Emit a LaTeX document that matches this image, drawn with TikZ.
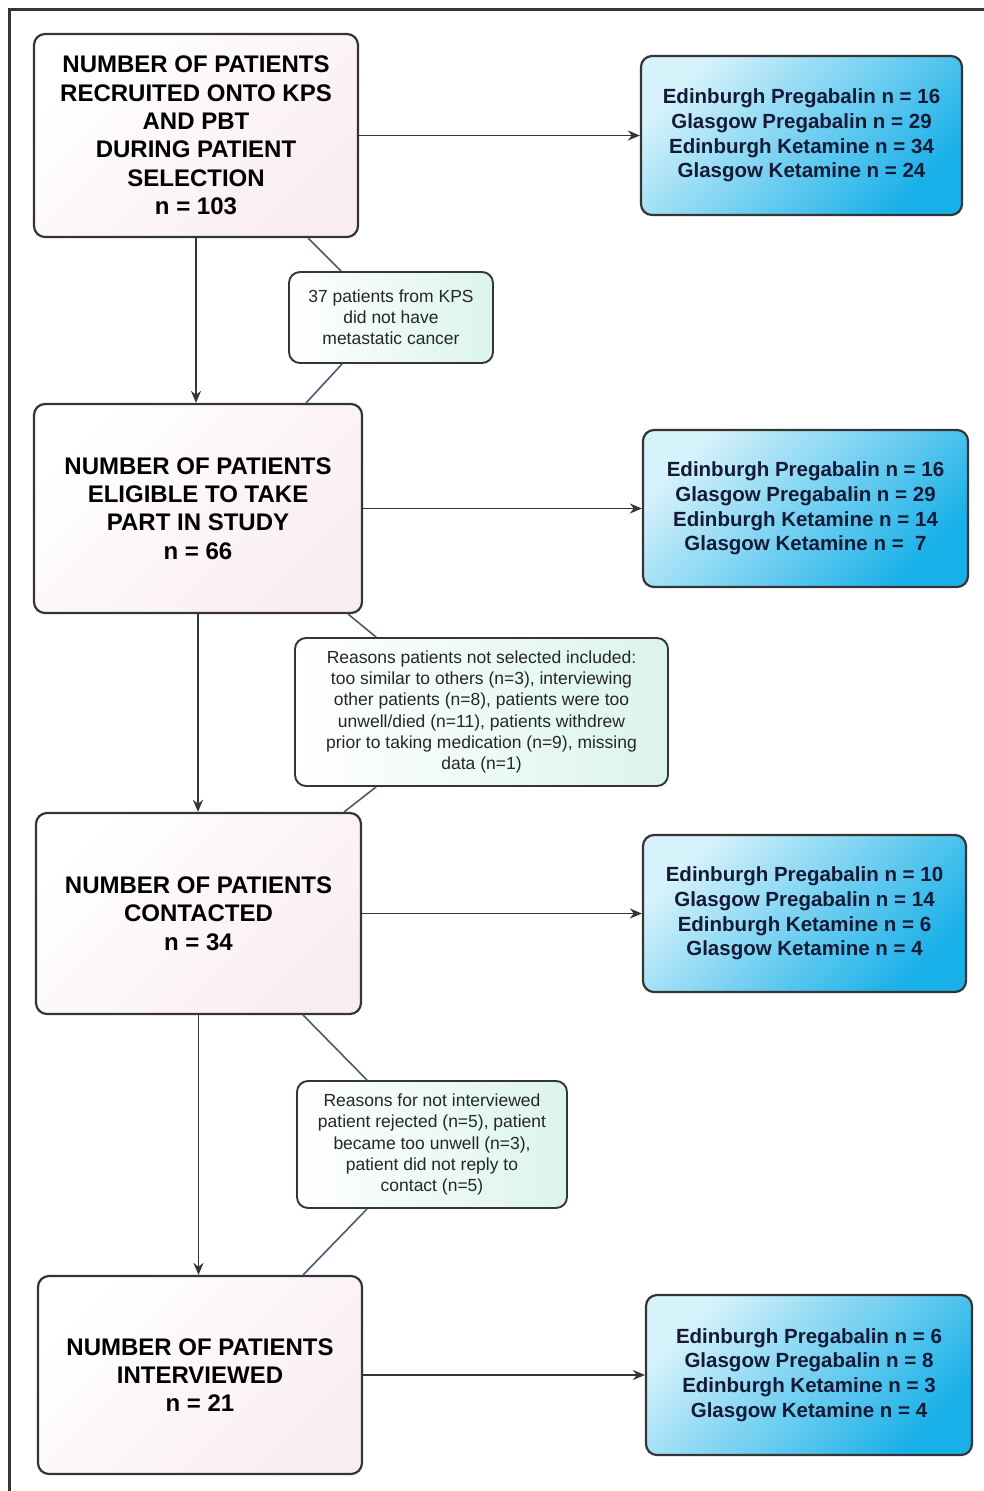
\documentclass[tikz,border=0pt]{standalone}
\usepackage{fontspec}
\setmainfont{Liberation Sans}
\usetikzlibrary{arrows.meta}

\definecolor{edge}{HTML}{353535}
\definecolor{linkblue}{HTML}{4A5878}
\definecolor{pinkish}{HTML}{FAEDF0}
\definecolor{cyanlight}{HTML}{D6F2FB}
\definecolor{cyandeep}{HTML}{18B0E8}
\definecolor{mint}{HTML}{DBF4EC}
\definecolor{navytext}{HTML}{151A36}

\begin{document}
\begin{tikzpicture}[x=1pt,y=-1pt,
  stage/.style={draw=edge,line width=2.2pt,rounded corners=11pt,
    top color=white,bottom color=pinkish,shading angle=45,
    font=\bfseries\fontsize{24}{28.3}\selectfont,align=center,inner sep=0pt},
  sites/.style={draw=edge,line width=2.2pt,rounded corners=11pt,
    top color=cyanlight,bottom color=cyandeep,shading angle=45,
    text=navytext,font=\bfseries\fontsize{20.5}{24.6}\selectfont,align=center,inner sep=0pt},
  reason/.style={draw=edge,line width=1.9pt,rounded corners=11pt,
    left color=white,right color=mint,
    text=black!85,font=\fontsize{17.5}{21.2}\selectfont,align=center,inner sep=0pt},
  arr/.style={draw=edge,line width=1.8pt,-{Stealth[length=12pt,width=10pt]}},
  link/.style={draw=linkblue,line width=1.6pt}]
\useasboundingbox (0,0) rectangle (984,1491);
% the outer frame, cut off at the right and the bottom
\draw[line width=2.2pt,edge] (9.5,1491) -- (9.5,9.5) -- (984,9.5);
% the four stages of the flow
\node[stage,minimum width=324pt,minimum height=203pt] (recruited) at (196,135.5)
  {NUMBER OF PATIENTS\\RECRUITED ONTO KPS\\AND PBT\\DURING PATIENT\\SELECTION\\n = 103};
\node[stage,minimum width=328pt,minimum height=209pt] (eligible) at (198,508.5)
  {NUMBER OF PATIENTS\\ELIGIBLE TO TAKE\\PART IN STUDY\\n = 66};
\node[stage,minimum width=325pt,minimum height=201pt] (contacted) at (198.5,913.5)
  {NUMBER OF PATIENTS\\CONTACTED\\n = 34};
\node[stage,minimum width=324pt,minimum height=198pt] (interviewed) at (200,1375)
  {NUMBER OF PATIENTS\\INTERVIEWED\\n = 21};
% the split by site and drug at each stage
\node[sites,minimum width=321pt,minimum height=159pt] (split1) at (801.5,135.5)
  {Edinburgh Pregabalin n = 16\\Glasgow Pregabalin n = 29\\Edinburgh Ketamine n = 34\\Glasgow Ketamine n = 24};
\node[sites,minimum width=325pt,minimum height=157pt] (split2) at (805.5,508.5)
  {Edinburgh Pregabalin n = 16\\Glasgow Pregabalin n = 29\\Edinburgh Ketamine n = 14\\Glasgow Ketamine n = \ 7};
\node[sites,minimum width=323pt,minimum height=157pt] (split3) at (804.5,913.5)
  {Edinburgh Pregabalin n = 10\\Glasgow Pregabalin n = 14\\Edinburgh Ketamine n = 6\\Glasgow Ketamine n = 4};
\node[sites,minimum width=326pt,minimum height=160pt] (split4) at (809,1375)
  {Edinburgh Pregabalin n = 6\\Glasgow Pregabalin n = 8\\Edinburgh Ketamine n = 3\\Glasgow Ketamine n = 4};
% the reasons for the drop between stages
\node[reason,minimum width=204pt,minimum height=91pt] (drop1) at (391,317.5)
  {37 patients from KPS\\did not have\\metastatic cancer};
\node[reason,minimum width=373pt,minimum height=148pt] (drop2) at (481.5,712)
  {Reasons patients not selected included:\\too similar to others (n=3), interviewing\\other patients (n=8), patients were too\\unwell/died (n=11), patients withdrew\\prior to taking medication (n=9), missing\\data (n=1)};
\node[reason,minimum width=270pt,minimum height=127pt] (drop3) at (432,1144.5)
  {Reasons for not interviewed\\patient rejected (n=5), patient\\became too unwell (n=3),\\patient did not reply to\\contact (n=5)};
% down the flow
\draw[arr] (recruited.south) -- (recruited.south |- eligible.north);
\draw[arr] (eligible.south) -- (eligible.south |- contacted.north);
\draw[arr] (contacted.south) -- (contacted.south |- interviewed.north);
% across to the split
\draw[arr] (recruited.east) -- (split1.west);
\draw[arr] (eligible.east) -- (split2.west);
\draw[arr] (contacted.east) -- (split3.west);
\draw[arr] (interviewed.east) -- (split4.west);
% the notes hang on the downward arrows
\draw[link] ([xshift=-51pt]recruited.south east) -- ([xshift=53pt]drop1.north west);
\draw[link] ([xshift=54pt]drop1.south west) -- ([xshift=-57pt]eligible.north east);
\draw[link] ([xshift=-15pt]eligible.south east) -- ([xshift=82pt]drop2.north west);
\draw[link] ([xshift=82pt]drop2.south west) -- ([xshift=-18pt]contacted.north east);
\draw[link] ([xshift=-59pt]contacted.south east) -- ([xshift=71pt]drop3.north west);
\draw[link] ([xshift=71pt]drop3.south west) -- ([xshift=-60pt]interviewed.north east);
\end{tikzpicture}
\end{document}
